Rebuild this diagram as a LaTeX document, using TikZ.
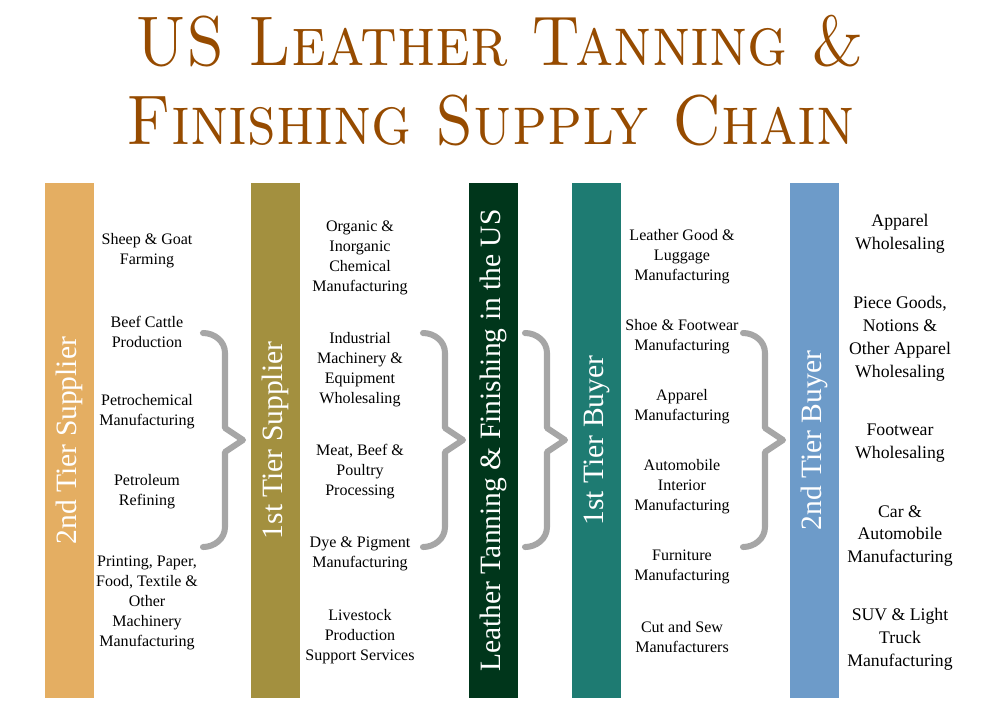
\documentclass[tikz,border=0pt]{standalone}
\usepackage{fontspec}
\usepackage{xcolor}
\usepackage{graphicx}
\usepackage{tikz}
\usetikzlibrary{positioning}
\newfontfamily\bodyfont{Liberation Serif}
\definecolor{titlebrown}{HTML}{964B00}
\definecolor{supptwo}{HTML}{E4AE62}
\definecolor{suppone}{HTML}{A3903F}
\definecolor{tanning}{HTML}{00361B}
\definecolor{buyone}{HTML}{1E7B72}
\definecolor{buytwo}{HTML}{6D9BC9}
\definecolor{bracegray}{HTML}{A6A6A6}

\begin{document}
\begin{tikzpicture}[x=0.025cm,y=-0.025cm,
  title/.style={anchor=base,inner sep=0,text=titlebrown,font=\fontsize{50}{56}\selectfont\scshape},
  bar/.style={rotate=90,minimum width=12.875cm,minimum height=1.225cm,inner sep=0,
    text=white,font=\bodyfont\fontsize{21}{25}\selectfont},
  item/.style={align=center,inner sep=0,font=\bodyfont\fontsize{11.4}{14.2}\selectfont},
  bigitem/.style={align=center,inner sep=0,font=\bodyfont\fontsize{12.6}{16.3}\selectfont},
  bracket/.style={draw=bracegray,line width=4.3pt,line cap=round,line join=round}]
\useasboundingbox (0,0) rectangle (1000,700);
% title
\node[title] (title1) at (500,65) {\scalebox{0.89}[1]{US Leather Tanning \&}};
\node[title] (title2) at (491,144) {\scalebox{0.89}[1]{Finishing Supply Chain}};
% the five tiers
\node[bar,fill=supptwo] (supp2) at (69.5,440.5) {2nd Tier Supplier};
\node[bar,fill=suppone] (supp1) at (275.5,440.5) {1st Tier Supplier};
\node[bar,fill=tanning] (tan) at (493.5,440.5) {Leather Tanning \& Finishing in the US};
\node[bar,fill=buyone] (buy1) at (596.5,440.5) {1st Tier Buyer};
\node[bar,fill=buytwo] (buy2) at (814.5,440.5) {2nd Tier Buyer};
% 2nd tier suppliers
\node[item] (s2a) at (147,251) {Sheep \& Goat\\Farming};
\node[item] (s2b) at (147,332) {Beef Cattle\\Production};
\node[item] (s2c) at (147,412) {Petrochemical\\Manufacturing};
\node[item] (s2d) at (147,492) {Petroleum\\Refining};
\node[item] (s2e) at (147,603) {Printing, Paper,\\Food, Textile \&\\Other\\Machinery\\Manufacturing};
% 1st tier suppliers
\node[item] (s1a) at (360,258) {Organic \&\\Inorganic\\Chemical\\Manufacturing};
\node[item] (s1b) at (360,370) {Industrial\\Machinery \&\\Equipment\\Wholesaling};
\node[item] (s1c) at (360,472) {Meat, Beef \&\\Poultry\\Processing};
\node[item] (s1d) at (360,554) {Dye \& Pigment\\Manufacturing};
\node[item] (s1e) at (360,637) {Livestock\\Production\\Support Services};
% 1st tier buyers
\node[item] (b1a) at (682,257) {Leather Good \&\\Luggage\\Manufacturing};
\node[item] (b1b) at (682,337) {Shoe \& Footwear\\Manufacturing};
\node[item] (b1c) at (682,407) {Apparel\\Manufacturing};
\node[item] (b1d) at (682,487) {Automobile\\Interior\\Manufacturing};
\node[item] (b1e) at (682,567) {Furniture\\Manufacturing};
\node[item] (b1f) at (682,637) {Cut and Sew\\Manufacturers};
% 2nd tier buyers
\node[bigitem] (b2a) at (900,234) {Apparel\\Wholesaling};
\node[bigitem] (b2b) at (900,339) {Piece Goods,\\Notions \&\\Other Apparel\\Wholesaling};
\node[bigitem] (b2c) at (900,443) {Footwear\\Wholesaling};
\node[bigitem] (b2d) at (900,536) {Car \&\\Automobile\\Manufacturing};
\node[bigitem] (b2e) at (900,639) {SUV \& Light\\Truck\\Manufacturing};
% braces
\draw[bracket,shift={(203,0)}] (0,333) to[out=0,in=90] (22,353) -- (22,428) -- (40,440)
  -- (22,452) -- (22,527) to[out=-90,in=0] (0,547);
\draw[bracket,shift={(423,0)}] (0,333) to[out=0,in=90] (22,353) -- (22,428) -- (40,440)
  -- (22,452) -- (22,527) to[out=-90,in=0] (0,547);
\draw[bracket,shift={(525,0)}] (0,333) to[out=0,in=90] (22,353) -- (22,428) -- (40,440)
  -- (22,452) -- (22,527) to[out=-90,in=0] (0,547);
\draw[bracket,shift={(743,0)}] (0,333) to[out=0,in=90] (22,353) -- (22,428) -- (40,440)
  -- (22,452) -- (22,527) to[out=-90,in=0] (0,547);
\end{tikzpicture}
\end{document}
